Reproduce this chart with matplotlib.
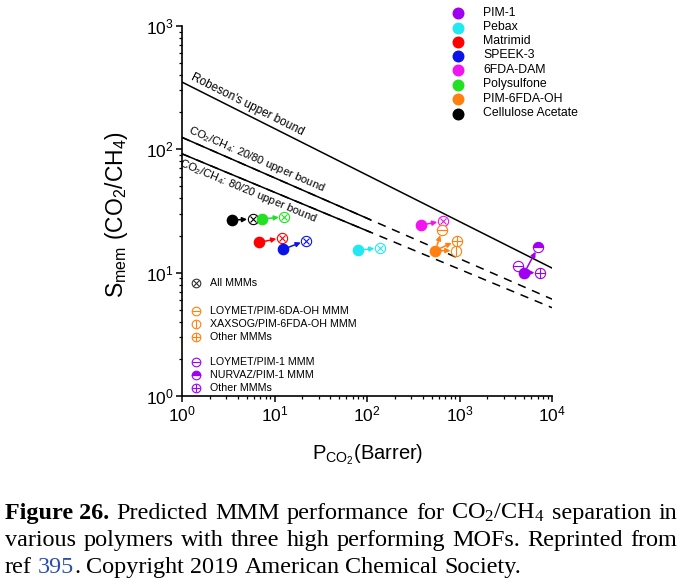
import numpy as np
import matplotlib
matplotlib.use('Agg')
import matplotlib.pyplot as plt
from matplotlib.patches import Rectangle

plt.rcParams['font.family'] = ['Liberation Sans', 'DejaVu Sans']
plt.rcParams['mathtext.default'] = 'regular'

# ---------------- data ----------------
polymers = ['PIM-1', 'Pebax', 'Matrimid', 'SPEEK-3', '6FDA-DAM',
            'Polysulfone', 'PIM-6FDA-OH', 'Cellulose Acetate']
colors = ['#A000F0', '#22E8F2', '#FF0000', '#0A14E6', '#F014F0',
          '#22E022', '#FF8010', '#000000']
poly_P = [5020, 80.5, 6.85, 12.5, 384, 7.3, 548, 3.5]
poly_S = [10.0, 15.2, 17.6, 15.5, 24.3, 27.2, 15.1, 26.7]

# "All MMMs" (crossed circles) for the single-MMM polymers
mmm_names = ['Pebax', 'Matrimid', 'SPEEK-3', '6FDA-DAM', 'Polysulfone', 'Cellulose Acetate']
mmm_P = [138, 12.0, 21.9, 658, 12.8, 5.8]
mmm_S = [15.9, 19.2, 18.2, 26.2, 28.4, 27.2]

# PIM-6FDA-OH MMMs
oh_labels = ['LOYMET/PIM-6DA-OH MMM', 'XAXSOG/PIM-6FDA-OH MMM', 'Other MMMs']
oh_P = [647, 917, 933]
oh_S = [22.2, 15.1, 18.2]

# PIM-1 MMMs
pim1_labels = ['LOYMET/PIM-1 MMM', 'NURVAZ/PIM-1 MMM', 'Other MMMs']
pim1_P = [4320, 7110, 7420]
pim1_S = [11.4, 16.2, 10.0]

# upper bounds (end points)
bound_P = [1, 1e4]
robeson_S = [351, 10.9]
ub2080_S = [125, 6.1]
ub8020_S = [92, 5.2]
solid_end_P = 110

# ---------------- figure ----------------
W, H = 680, 585
fig = plt.figure(figsize=(W / 100, H / 100), dpi=100)
L, R, T, B = 182, 552, 26, 396
ax = fig.add_axes([L / W, 1 - B / H, (R - L) / W, (B - T) / H])
ax.set_xscale('log')
ax.set_yscale('log')
ax.set_xlim(1, 1e4)
ax.set_ylim(1, 1e3)
for s in ['top', 'right']:
    ax.spines[s].set_visible(False)
for s in ['left', 'bottom']:
    ax.spines[s].set_linewidth(1.2)
ax.tick_params(which='major', direction='out', length=4.5, width=1.1, labelsize=12.5, pad=1.5)
ax.tick_params(which='minor', direction='out', length=2.3, width=0.9)
ax.set_xlabel(r'P$_{CO_2}$(Barrer)', fontsize=14.5)
ax.set_ylabel(r'S$_{mem}$ (CO$_2$/CH$_4$)', fontsize=16.5)
ax.xaxis.set_label_coords(0.503, -0.125)
ax.yaxis.set_label_coords(-0.14, 0.49)

lw = 1.1
ax.plot(bound_P, robeson_S, color='black', lw=lw)
clip = Rectangle((1, 0.1), solid_end_P - 1, 1e5, transform=ax.transData)
for S in (ub2080_S, ub8020_S):
    ax.plot(bound_P, S, color='black', lw=lw, linestyle=(0, (5.5, 4.5)))
    ln, = ax.plot(bound_P, S, color='black', lw=lw)
    ln.set_clip_path(clip)


def line_angle(S):
    p1 = ax.transData.transform((bound_P[0], S[0]))
    p2 = ax.transData.transform((bound_P[1], S[1]))
    return np.degrees(np.arctan2(p2[1] - p1[1], p2[0] - p1[0]))


def on_line(S, P):
    t = np.log10(P) / 4
    return 10 ** (np.log10(S[0]) + t * (np.log10(S[1]) - np.log10(S[0])))


lab_kw = dict(rotation_mode='anchor', ha='left')
ax.annotate("Robeson's upper bound", xy=(1.2, on_line(robeson_S, 1.2)), xytext=(0, 2.5),
            textcoords='offset points', rotation=line_angle(robeson_S), va='bottom',
            fontsize=8.5, **lab_kw)
ax.annotate(r'CO$_2$/CH$_4$: 20/80 upper bound', xy=(1.1, on_line(ub2080_S, 1.1)), xytext=(0, 2.5),
            textcoords='offset points', rotation=line_angle(ub2080_S), va='bottom',
            fontsize=8.1, **lab_kw)
ax.annotate(r'CO$_2$/CH$_4$: 80/20 upper bound', xy=(1.02, on_line(ub8020_S, 1.02)), xytext=(0, -1.5),
            textcoords='offset points', rotation=line_angle(ub8020_S), va='top',
            fontsize=8.1, **lab_kw)

MS = 7.4
MEW = 0.8


def arrow(p0, p1, c):
    ax.annotate('', xy=p1, xytext=p0,
                arrowprops=dict(arrowstyle='-|>', color=c, lw=1.1, shrinkA=4, shrinkB=4,
                                mutation_scale=7), zorder=3)


def ring(P, S, c, inner, inner_ms=None, ax_=None, ms=MS, fill=None):
    a = ax_ if ax_ is not None else ax
    if fill == 'top':
        a.plot(P, S, 'o', ms=ms, mfc=c, mec=c, mew=MEW, fillstyle='top',
               markerfacecoloralt='white', zorder=4)
    else:
        a.plot(P, S, 'o', ms=ms, mfc='white', mec=c, mew=MEW, zorder=4)
    if inner:
        a.plot(P, S, inner, ms=inner_ms if inner_ms else ms, color=c, mew=MEW, zorder=5)


cmap = dict(zip(polymers, colors))
# arrows
for n, P, S in zip(mmm_names, mmm_P, mmm_S):
    i = polymers.index(n)
    arrow((poly_P[i], poly_S[i]), (P, S), cmap[n])
i_oh = polymers.index('PIM-6FDA-OH')
for P, S in zip(oh_P, oh_S):
    arrow((poly_P[i_oh], poly_S[i_oh]), (P, S), cmap['PIM-6FDA-OH'])
i_p1 = polymers.index('PIM-1')
for P, S in zip(pim1_P, pim1_S):
    arrow((poly_P[i_p1], poly_S[i_p1]), (P, S), cmap['PIM-1'])

# markers
for n, P, S in zip(mmm_names, mmm_P, mmm_S):
    ring(P, S, cmap[n], 'x', MS * 0.68)
oh_inner = ['_', '|', '+']
for P, S, m in zip(oh_P, oh_S, oh_inner):
    ring(P, S, cmap['PIM-6FDA-OH'], m)
ring(pim1_P[0], pim1_S[0], cmap['PIM-1'], '_')
ring(pim1_P[1], pim1_S[1], cmap['PIM-1'], '_', fill='top')
ring(pim1_P[2], pim1_S[2], cmap['PIM-1'], '+')
for P, S, c in zip(poly_P, poly_S, colors):
    ax.plot(P, S, 'o', ms=MS, color=c, mec=c, zorder=6)

# ---------------- overlay (pixel coordinates) ----------------
ov = fig.add_axes([0, 0, 1, 1], facecolor='none')
ov.set_xlim(0, W)
ov.set_ylim(H, 0)
ov.axis('off')

# right legend
leg_y = [13, 27.5, 41.5, 55.5, 70, 84.5, 99, 113.5]
for name, c, y in zip(polymers, colors, leg_y):
    ov.plot(458, y, 'o', ms=7.6, color=c)
    ov.text(483, y, name, fontsize=8.8, va='center', ha='left')

# left legend
lms = 6.2
ring(196, 283, '#333333', 'x', lms * 0.68, ax_=ov, ms=lms)
ov.text(210, 283, 'All MMMs', fontsize=7.7, va='center')
for lab, m, y in zip(oh_labels, oh_inner, [311, 324, 337]):
    ring(196, y, cmap['PIM-6FDA-OH'], m, ax_=ov, ms=lms)
    ov.text(210, y, lab, fontsize=7.7, va='center')
for k, (lab, y) in enumerate(zip(pim1_labels, [362, 375, 388])):
    if k == 0:
        ring(196, y, cmap['PIM-1'], '_', ax_=ov, ms=lms)
    elif k == 1:
        ring(196, y, cmap['PIM-1'], '_', ax_=ov, ms=lms, fill='top')
    else:
        ring(196, y, cmap['PIM-1'], '+', ax_=ov, ms=lms)
    ov.text(210, y, lab, fontsize=7.7, va='center')

# caption (justified)
CF = 17.4
serif = ['Liberation Serif', 'DejaVu Serif']
base = dict(fontsize=CF, family=serif, va='baseline', ha='left')
renderer = fig.canvas.get_renderer()


def caption_line(tokens, y, x0=5, x1=677, justify=True):
    txts = []
    for s, kw, sp in tokens:
        k = dict(base)
        k.update(kw)
        txts.append((ov.text(0, y, s, **k), sp))
    widths = [t.get_window_extent(renderer).width for t, _ in txts]
    nsp = sum(1 for _, sp in txts[1:] if sp)
    space = 0.25 * CF * 100 / 72
    if justify and nsp:
        space = (x1 - x0 - sum(widths)) / nsp
    x = x0
    for idx, ((t, sp), w) in enumerate(zip(txts, widths)):
        if sp and idx > 0:
            x += space
        t.set_x(x)
        x += w


def words(s):
    return [(w, {}, True) for w in s.split()]


line1 = [('Figure 26.', {'weight': 'bold'}, True)] + words('Predicted MMM performance for') + \
        [(r'CO$_2$/CH$_4$', {}, True)] + words('separation in')
line2 = words('various polymers with three high performing MOFs. Reprinted from')
line3 = [('ref', {}, True), ('395', {'color': '#2B50A8'}, True), ('.', {}, False)] + \
        words('Copyright 2019 American Chemical Society.')
caption_line(line1, 519)
caption_line(line2, 546)
caption_line(line3, 573, justify=False)

fig.savefig('out.png', dpi=100)
